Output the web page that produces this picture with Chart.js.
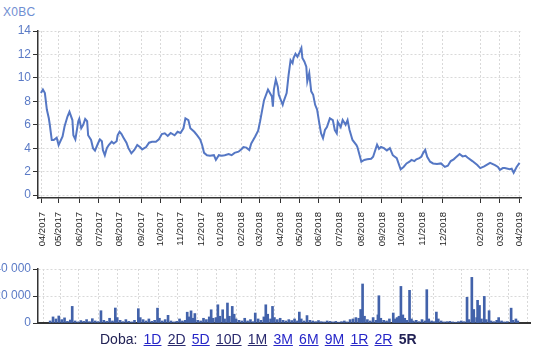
<!DOCTYPE html>
<html>
<head>
<meta charset="utf-8">
<script src="https://cdn.jsdelivr.net/npm/chart.js@4/dist/chart.umd.min.js"></script>
<style>
  html, body { margin: 0; padding: 0; background: #fff; overflow: hidden; }
  body { width: 540px; height: 351px; position: relative; font-family: Arial, "Liberation Sans", sans-serif; }
  #title { position: absolute; left: 3px; top: 6px; font-size: 12px; line-height: 12px; color: #6f8ed2; letter-spacing: 0.3px; }
  #priceChart { position: absolute; left: 0; top: 0; }
  #volumeChart { position: absolute; left: -40px; top: 255px; }
  #periods { position: absolute; left: 100px; top: 331px; font-size: 14px; line-height: 16px; color: #222255; word-spacing: 2.3px; white-space: nowrap; }
  #periods a { color: #2626c8; }
  #periods a.seen { color: #2a2a6e; }
  #periods b { color: #222255; }
</style>
</head>
<body>
<div id="title">X0BC</div>
<canvas id="priceChart" width="540" height="262"></canvas>
<canvas id="volumeChart" width="580" height="80"></canvas>
<div id="periods">Doba: <a href="#">1D</a> <a class="seen" href="#">2D</a> <a href="#">5D</a> <a class="seen" href="#">10D</a> <a class="seen" href="#">1M</a> <a href="#">3M</a> <a href="#">6M</a> <a href="#">9M</a> <a href="#">1R</a> <a href="#">2R</a> <b>5R</b></div>

<script>
// x axis is the trading-session index since the listing (04/2017)
const monthDay = [4, 21, 42, 62, 83, 105, 125, 145, 166, 186, 207, 225, 247, 266, 285, 307, 329, 350, 370, 391, 412, 450, 470, 490];
const monthLabel = ['04/2017', '05/2017', '06/2017', '07/2017', '08/2017', '09/2017', '10/2017', '11/2017', '12/2017',
    '01/2018', '02/2018', '03/2018', '04/2018', '05/2018', '06/2018', '07/2018', '08/2018', '09/2018', '10/2018',
    '11/2018', '12/2018', '02/2019', '03/2019', '04/2019'];

// closing price
const priceDay = [3, 5, 7, 9, 11, 12, 14, 16, 19, 21, 25, 27, 30, 32, 35, 36, 38, 41, 42, 44,
    46, 48, 50, 51, 54, 56, 58, 61, 63, 65, 66, 68, 70, 72, 75, 77, 80, 81, 83, 85,
    87, 90, 92, 95, 98, 101, 104, 106, 110, 113, 116, 120, 123, 126, 129, 132, 135, 139, 142, 145,
    148, 150, 153, 155, 159, 162, 165, 167, 169, 172, 175, 179, 181, 184, 187, 190, 194, 197, 200, 204,
    207, 209, 212, 215, 217, 219, 221, 224, 226, 228, 230, 234, 235, 238, 239, 240, 242, 244, 245, 249,
    250, 253, 255, 257, 259, 260, 262, 264, 266, 268, 269, 271, 273, 274, 276, 278, 280, 282, 284, 286,
    288, 290, 292, 294, 297, 300, 302, 304, 305, 308, 310, 313, 315, 317, 320, 324, 325, 329, 332, 335,
    339, 341, 345, 347, 349, 352, 355, 358, 361, 365, 369, 372, 375, 378, 380, 383, 385, 388, 390, 392,
    394, 396, 399, 402, 406, 410, 414, 417, 420, 423, 425, 429, 432, 435, 437, 442, 447, 450, 454, 457,
    460, 465, 468, 470, 473, 475, 480, 482, 484, 487, 490];
const priceClose = [8.7, 9.0, 8.7, 7.3, 6.55, 6.0, 4.7, 4.7, 4.9, 4.27, 5.0, 5.85, 6.7, 7.1, 6.4, 5.1, 4.75, 6.3, 6.5, 5.7,
    6.0, 6.5, 6.3, 5.1, 4.7, 4.0, 3.8, 4.4, 4.75, 4.6, 3.85, 3.4, 4.0, 4.27, 4.55, 4.4, 4.6, 5.1, 5.4, 5.2,
    4.9, 4.47, 4.0, 3.56, 3.85, 4.27, 4.08, 3.9, 4.1, 4.47, 4.55, 4.55, 4.75, 5.2, 5.27, 5.05, 5.3, 5.1, 5.4, 5.3,
    5.7, 6.55, 6.4, 5.7, 5.4, 5.1, 4.75, 4.27, 3.6, 3.4, 3.35, 3.4, 3.0, 3.4, 3.35, 3.4, 3.5, 3.4, 3.6, 3.7,
    3.9, 4.1, 4.05, 3.85, 4.4, 4.7, 5.0, 5.5, 6.3, 7.2, 8.1, 9.0, 8.85, 8.4, 7.55, 9.0, 9.85, 9.25, 8.55, 7.7,
    8.0, 8.7, 10.25, 11.5, 11.25, 11.7, 12.05, 11.8, 12.15, 12.55, 11.7, 11.4, 10.95, 9.7, 10.4, 8.85, 8.55, 7.7, 7.3, 6.25,
    5.27, 4.85, 5.55, 5.8, 6.55, 6.4, 5.55, 5.27, 6.25, 5.8, 6.4, 6.0, 6.4, 5.55, 4.7, 4.27, 4.1, 2.85, 3.0, 3.05,
    3.1, 3.27, 4.3, 3.95, 4.1, 4.0, 3.8, 4.0, 3.4, 3.15, 2.2, 2.4, 2.7, 2.85, 3.0, 2.9, 3.05, 3.15, 3.27, 3.6,
    3.85, 3.27, 2.85, 2.7, 2.65, 2.7, 2.4, 2.5, 2.9, 3.05, 3.2, 3.5, 3.3, 3.35, 3.2, 2.9, 2.56, 2.3, 2.45, 2.6,
    2.75, 2.56, 2.4, 2.15, 2.3, 2.3, 2.2, 2.25, 1.9, 2.4, 2.75];

// traded volume (pieces)
const volDay = [2, 5, 8, 11, 14, 17, 20, 23, 25, 28, 31, 34, 37, 40, 43, 46, 49, 52, 55, 58,
    61, 64, 67, 70, 72, 75, 78, 81, 84, 87, 90, 94, 96, 99, 102, 105, 108, 111, 114, 116,
    119, 122, 125, 128, 131, 134, 137, 140, 143, 145, 147, 149, 151, 153, 156, 159, 162, 165, 168, 170,
    172, 175, 177, 179, 182, 184, 187, 189, 192, 194, 196, 199, 202, 205, 208, 211, 214, 216, 219, 222,
    225, 227, 229, 232, 234, 236, 239, 242, 245, 248, 251, 254, 257, 260, 262, 264, 267, 270, 273, 276,
    279, 282, 285, 288, 291, 294, 297, 300, 303, 306, 309, 312, 315, 318, 321, 324, 326, 328, 330, 333,
    336, 339, 342, 344, 345, 347, 350, 353, 356, 360, 362, 364, 366, 368, 370, 372, 374, 377, 379, 381,
    384, 387, 390, 393, 395, 397, 400, 403, 405, 407, 410, 413, 416, 419, 422, 425, 428, 431, 434, 437,
    439, 442, 444, 447, 448, 450, 452, 455, 457, 460, 462, 465, 468, 470, 473, 476, 479, 483, 485, 488, 490];
const volAmount = [1500, 4500, 3000, 5200, 2500, 3800, 1200, 2200, 12300, 1500, 800, 1800, 1200, 2500, 1000, 3200, 1500, 1000, 9100, 2000,
    1200, 3500, 1500, 11100, 4000, 2000, 1000, 2500, 1200, 800, 2000, 10600, 4000, 2500, 1500, 3000, 1200, 2000, 11000, 3500,
    1500, 2500, 5700, 1500, 800, 1200, 3000, 1500, 2000, 8000, 4500, 9000, 3500, 7000, 2000, 1500, 3500, 2500, 4500, 9800,
    3500, 4000, 13500, 5000, 9800, 3000, 14800, 5000, 12300, 6500, 3000, 2000, 1500, 3500, 1500, 2500, 1000, 7400, 3000, 2000,
    4500, 13500, 6500, 3000, 12300, 4000, 2500, 3500, 2000, 1500, 2500, 1800, 3000, 1500, 8100, 3000, 1500, 5500, 2000, 1500,
    1000, 1800, 1000, 800, 1500, 1200, 800, 1200, 600, 1000, 1500, 800, 2500, 3000, 4000, 3500, 10000, 28900, 5000, 2500,
    1500, 4000, 2000, 6000, 20200, 3500, 2000, 1500, 3000, 7400, 3000, 4000, 5000, 27100, 6000, 3500, 2000, 24200, 3000, 1500,
    2000, 1000, 2500, 1500, 24700, 3000, 1500, 1000, 8100, 3000, 1500, 800, 1000, 1200, 800, 600, 1000, 1500, 1000, 19000,
    2500, 33800, 10000, 4000, 16800, 13000, 3000, 19700, 2500, 9100, 1500, 1000, 2000, 4000, 1500, 800, 1000, 11000, 2000, 3000, 1500];

const priceTicks = [0, 2, 4, 6, 8, 10, 12, 14];
const volumeTicks = [0, 20000, 40000];

Chart.defaults.font.family = 'Arial, "Liberation Sans", sans-serif';
Chart.defaults.animation = false;

function setMonthTicks(scale) {
    scale.ticks = monthDay.map(v => ({ value: v }));
}

new Chart(document.getElementById('priceChart').getContext('2d'), {
    type: 'line',
    data: {
        datasets: [{
            data: priceDay.map((d, i) => ({ x: d, y: priceClose[i] })),
            borderColor: '#5577c4',
            borderWidth: 2,
            pointRadius: 0,
            tension: 0
        }]
    },
    options: {
        responsive: false,
        layout: { padding: { top: 31, right: 10, left: 0, bottom: 0 } },
        plugins: { legend: { display: false }, tooltip: { enabled: false } },
        scales: {
            x: {
                type: 'linear',
                min: 0,
                max: 492,
                afterBuildTicks: setMonthTicks,
                afterFit: scale => { scale.height = 64; },
                ticks: {
                    autoSkip: false,
                    minRotation: 90,
                    maxRotation: 90,
                    padding: 9,
                    color: '#222',
                    font: { size: 9.5 },
                    callback: (v, i) => monthLabel[i]
                },
                grid: { color: '#d9d9d9', tickColor: '#333', tickLength: 5 },
                border: { color: '#333', width: 1.5, dash: [2, 2] }
            },
            y: {
                min: -0.25,
                max: 14,
                afterBuildTicks: scale => { scale.ticks = priceTicks.map(v => ({ value: v })); },
                afterFit: scale => { scale.width = 38; },
                ticks: { color: '#5b7bc6', font: { size: 12 }, padding: 2 },
                grid: { color: '#d9d9d9', tickColor: '#333', tickLength: 5 },
                border: { color: '#333', width: 1.5, dash: [2, 2] }
            }
        }
    }
});

new Chart(document.getElementById('volumeChart').getContext('2d'), {
    type: 'bar',
    data: {
        datasets: [{
            data: volDay.map((d, i) => ({ x: d, y: volAmount[i] })),
            backgroundColor: '#4262aa',
            barThickness: 2
        }]
    },
    options: {
        responsive: false,
        layout: { padding: { top: 14, right: 10, left: 0, bottom: 0 } },
        plugins: { legend: { display: false }, tooltip: { enabled: false } },
        scales: {
            x: {
                type: 'linear',
                min: 0,
                max: 492,
                afterBuildTicks: setMonthTicks,
                afterFit: scale => { scale.height = 12; },
                ticks: { display: false },
                grid: { color: '#d9d9d9', drawTicks: false },
                border: { color: '#333', width: 2, dash: [2, 2] }
            },
            y: {
                min: 0,
                max: 40000,
                afterBuildTicks: scale => { scale.ticks = volumeTicks.map(v => ({ value: v })); },
                afterFit: scale => { scale.width = 78; },
                ticks: {
                    color: '#5b7bc6',
                    font: { size: 12 },
                    padding: 2,
                    callback: v => String(v).replace(/\B(?=(\d{3})+(?!\d))/g, ' ')
                },
                grid: { color: '#d9d9d9', tickColor: '#333', tickLength: 5 },
                border: { color: '#333', width: 1.5, dash: [2, 2] }
            }
        }
    }
});
</script>
</body>
</html>
